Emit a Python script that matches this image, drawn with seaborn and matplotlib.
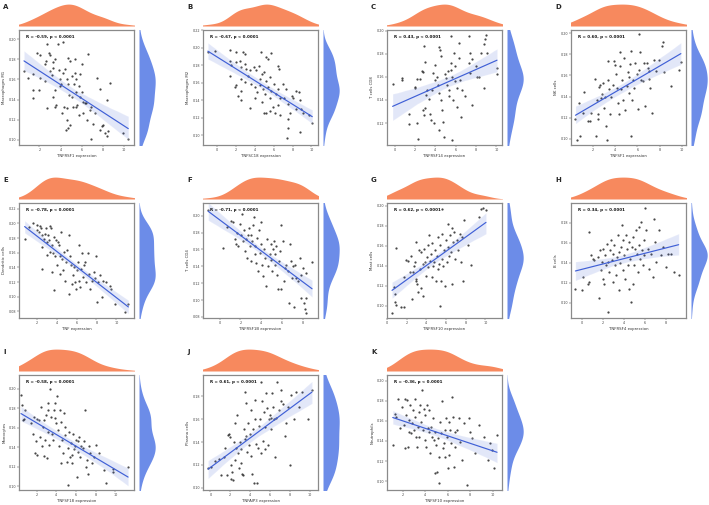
import numpy as np
import matplotlib
matplotlib.use("Agg")
import matplotlib.pyplot as plt
import seaborn as sns

sns.set_style("white")
plt.rcParams['font.family'] = ['DejaVu Sans']

# ---------------- data ----------------
A_x = [0.55,0.96,2.7,3.8,4.27,1.8,2.06,2.95,3.0,2.6,2.5,3.3,3.5,4.7,4.85,5.4,6.6,1.4,2.06,1.37,2.0,1.43,2.5,3.0,3.2,3.3,3.9,3.95,4.05,4.27,4.4,4.6,4.75,5.05,5.5,5.7,5.85,6.0,5.37,5.27,2.7,3.5,3.6,4.33,4.58,4.1,4.83,5.05,5.2,5.46,5.6,6.1,6.3,6.45,6.8,6.9,7.25,7.4,7.7,8.7,8.4,4.6,4.75,4.9,4.5,6.47,7.1,6.9,7.7,8.0,8.2,8.35,8.5,7.9,9.9,10.4,5.85,6.0,5.5,3.95,3.5,3.3,6.15,5.7]
A_y = [0.168,0.161,0.195,0.195,0.197,0.186,0.184,0.186,0.184,0.178,0.175,0.177,0.180,0.181,0.178,0.180,0.185,0.165,0.161,0.150,0.150,0.142,0.158,0.168,0.164,0.171,0.169,0.160,0.155,0.166,0.170,0.160,0.155,0.163,0.160,0.153,0.165,0.175,0.166,0.155,0.132,0.133,0.135,0.133,0.132,0.127,0.145,0.143,0.133,0.133,0.135,0.138,0.137,0.137,0.130,0.133,0.127,0.161,0.151,0.156,0.140,0.120,0.112,0.115,0.110,0.120,0.116,0.101,0.110,0.115,0.107,0.104,0.109,0.114,0.107,0.101,0.143,0.148,0.148,0.153,0.150,0.143,0.127,0.125]

B_x = [-1.0,-0.28,1.3,1.95,2.7,2.9,4.7,5.75,5.14,5.4,1.3,1.5,1.4,2.0,2.4,2.55,2.9,3.1,3.44,3.9,4.15,4.4,4.5,4.75,5.0,5.2,5.6,6.5,6.6,2.55,2.9,3.26,2.0,1.85,2.2,2.55,3.6,3.97,4.25,4.5,4.86,5.1,5.4,5.57,5.75,6.0,6.28,6.45,6.7,7.0,7.34,2.55,3.44,3.97,4.75,4.96,5.2,5.57,5.9,6.1,6.45,6.7,7.1,7.5,7.9,8.05,8.4,8.65,8.75,8.4,8.87,7.5,7.7,9.1,9.8,10.1,7.5,7.4,8.75]
B_y = [0.195,0.196,0.197,0.195,0.195,0.193,0.195,0.194,0.189,0.187,0.185,0.180,0.168,0.183,0.185,0.178,0.181,0.176,0.174,0.178,0.174,0.179,0.164,0.170,0.172,0.162,0.166,0.179,0.176,0.164,0.161,0.168,0.157,0.155,0.145,0.151,0.159,0.155,0.149,0.157,0.153,0.147,0.155,0.143,0.151,0.159,0.147,0.153,0.143,0.159,0.153,0.140,0.131,0.143,0.138,0.125,0.126,0.128,0.132,0.125,0.134,0.123,0.142,0.136,0.145,0.142,0.151,0.149,0.140,0.130,0.130,0.119,0.126,0.125,0.123,0.114,0.108,0.097,0.104]

C_x = [-0.2,0.72,0.72,1.44,1.38,1.97,1.97,2.2,2.2,2.26,2.5,2.7,2.8,2.8,2.85,2.9,2.95,3.08,3.0,3.2,3.34,3.6,3.5,3.84,3.74,3.93,4.0,4.16,4.26,4.33,4.4,4.5,4.6,4.6,4.7,4.8,4.9,5.0,5.05,5.15,5.25,5.3,5.38,5.5,5.5,5.57,5.64,5.7,5.8,5.9,5.97,6.13,6.13,6.3,6.36,6.46,6.6,6.56,6.95,7.28,7.34,7.44,7.44,7.6,7.6,8.0,8.1,8.26,8.5,8.75,8.75,8.9,8.98,9.1,10.07,10.07,3.67,5.64,4.33]
C_y = [0.154,0.157,0.159,0.128,0.119,0.151,0.150,0.158,0.120,0.106,0.158,0.165,0.164,0.131,0.127,0.187,0.173,0.144,0.133,0.149,0.141,0.123,0.128,0.120,0.163,0.170,0.157,0.160,0.153,0.146,0.186,0.183,0.178,0.140,0.131,0.121,0.108,0.162,0.159,0.153,0.165,0.149,0.143,0.195,0.172,0.166,0.160,0.140,0.181,0.169,0.156,0.150,0.134,0.176,0.189,0.157,0.149,0.125,0.143,0.195,0.172,0.181,0.163,0.175,0.136,0.169,0.160,0.160,0.181,0.188,0.150,0.193,0.196,0.181,0.168,0.162,0.149,0.105,0.114]

D_x = [0.45,0.57,0.8,0.87,1.2,1.16,1.55,1.76,1.85,2.24,2.3,2.4,2.45,2.5,2.54,2.66,2.75,2.84,2.96,3.04,3.13,3.2,3.25,3.34,3.4,3.5,3.58,3.64,3.8,3.94,4.03,4.1,4.15,4.24,4.33,4.4,4.45,4.54,4.63,4.75,4.84,4.93,5.04,5.13,5.22,5.28,5.34,5.43,5.43,5.52,5.64,5.73,5.82,5.94,6.03,6.12,6.18,6.27,6.36,6.48,6.57,6.72,6.84,6.93,7.0,7.07,7.13,7.31,7.52,7.67,7.9,8.2,8.27,8.42,9.0,9.7,9.9]
D_y = [0.119,0.099,0.134,0.103,0.144,0.124,0.117,0.117,0.124,0.157,0.103,0.137,0.123,0.119,0.149,0.151,0.139,0.142,0.153,0.129,0.140,0.112,0.099,0.174,0.156,0.147,0.123,0.140,0.151,0.174,0.170,0.161,0.148,0.134,0.123,0.169,0.182,0.147,0.156,0.137,0.177,0.127,0.150,0.163,0.143,0.159,0.171,0.183,0.103,0.137,0.156,0.148,0.172,0.161,0.128,0.165,0.199,0.182,0.156,0.155,0.172,0.131,0.172,0.167,0.157,0.164,0.148,0.124,0.175,0.164,0.175,0.188,0.192,0.163,0.150,0.165,0.173]

E_x = [0.72,1.16,1.6,1.93,2.0,2.17,2.27,2.34,2.44,2.5,2.5,2.67,2.74,2.84,2.94,3.0,3.07,3.17,3.27,3.34,3.4,3.5,3.5,3.6,3.68,3.74,3.84,3.94,4.0,4.08,4.18,4.28,4.35,4.45,4.52,4.62,4.68,4.85,4.95,5.02,5.19,5.19,5.29,5.42,5.52,5.62,5.76,5.86,5.96,6.03,6.1,6.2,6.26,6.36,6.43,6.53,6.63,6.7,6.87,6.97,7.1,7.2,7.37,7.54,7.7,7.87,7.97,8.04,8.2,8.37,8.54,8.7,8.97,9.38,9.45,9.9,10.9,11.23]
E_y = [0.179,0.195,0.201,0.198,0.191,0.188,0.197,0.194,0.184,0.168,0.138,0.179,0.186,0.193,0.175,0.157,0.184,0.177,0.196,0.161,0.193,0.134,0.170,0.159,0.109,0.181,0.156,0.177,0.143,0.175,0.170,0.131,0.156,0.188,0.152,0.136,0.161,0.122,0.147,0.163,0.184,0.104,0.156,0.143,0.118,0.129,0.140,0.120,0.111,0.136,0.147,0.170,0.122,0.113,0.138,0.160,0.127,0.143,0.147,0.120,0.159,0.131,0.111,0.122,0.134,0.125,0.156,0.093,0.120,0.129,0.100,0.122,0.120,0.115,0.111,0.090,0.079,0.090]

F_x = [-1.1,0.32,0.7,1.12,1.28,1.44,1.6,1.7,1.76,1.92,2.08,2.18,2.24,2.34,2.4,2.56,2.66,2.72,2.8,2.88,2.98,3.04,3.1,3.2,3.3,3.36,3.43,3.52,3.62,3.68,3.75,3.85,3.94,4.0,4.07,4.17,4.26,4.33,4.49,4.58,4.65,4.8,4.9,4.97,5.03,5.13,5.22,5.29,5.35,5.45,5.54,5.6,5.67,5.77,5.87,5.93,6.09,6.19,6.25,6.41,6.57,6.63,6.73,6.83,6.96,7.05,7.15,7.28,7.37,7.53,7.69,7.79,7.85,8.01,8.1,8.17,8.27,8.33,8.33,8.88]
F_y = [0.207,0.162,0.187,0.194,0.193,0.172,0.166,0.179,0.164,0.190,0.177,0.202,0.170,0.183,0.158,0.172,0.150,0.177,0.185,0.164,0.146,0.177,0.170,0.189,0.198,0.164,0.154,0.144,0.173,0.134,0.183,0.156,0.166,0.192,0.142,0.128,0.161,0.150,0.117,0.172,0.140,0.154,0.166,0.148,0.134,0.161,0.170,0.142,0.154,0.164,0.130,0.113,0.146,0.158,0.189,0.113,0.170,0.122,0.138,0.142,0.134,0.096,0.166,0.146,0.126,0.140,0.092,0.142,0.126,0.122,0.150,0.102,0.130,0.138,0.096,0.089,0.085,0.132,0.102,0.145]

G_x = [0.51,0.72,0.78,0.85,0.96,0.96,1.4,1.74,1.74,1.98,2.15,2.32,2.42,2.56,2.66,2.76,2.83,2.9,3.0,3.0,3.07,3.17,3.24,3.34,3.45,3.5,3.62,3.69,3.79,3.86,3.92,4.03,4.13,4.2,4.27,4.37,4.47,4.54,4.61,4.71,4.81,4.88,4.95,5.05,5.15,5.22,5.29,5.39,5.39,5.49,5.56,5.63,5.63,5.73,5.84,5.9,5.97,6.08,6.18,6.25,6.35,6.42,6.52,6.59,6.66,6.76,6.86,6.93,7.1,7.27,7.44,7.54,7.61,7.78,7.88,8.29,8.57,9.39,9.59,9.76,10.07]
G_y = [0.093,0.119,0.112,0.104,0.101,0.158,0.099,0.099,0.129,0.146,0.145,0.134,0.150,0.107,0.134,0.140,0.144,0.127,0.125,0.164,0.122,0.114,0.156,0.137,0.154,0.118,0.142,0.110,0.157,0.144,0.130,0.149,0.139,0.161,0.171,0.145,0.152,0.129,0.163,0.140,0.144,0.156,0.125,0.150,0.169,0.137,0.142,0.100,0.161,0.125,0.172,0.147,0.197,0.140,0.156,0.120,0.166,0.144,0.159,0.182,0.150,0.171,0.154,0.178,0.122,0.164,0.174,0.147,0.166,0.156,0.172,0.144,0.169,0.125,0.186,0.161,0.141,0.189,0.197,0.198,0.196]

H_x = [-0.6,0.03,0.1,0.57,0.73,0.73,0.89,1.05,1.21,1.52,1.62,1.75,1.84,1.94,2.0,2.06,2.16,2.25,2.32,2.38,2.48,2.54,2.63,2.7,2.79,2.89,2.95,3.02,3.11,3.2,3.27,3.33,3.43,3.52,3.59,3.65,3.75,3.84,3.9,3.97,4.06,4.16,4.22,4.29,4.38,4.48,4.54,4.6,4.7,4.79,4.86,4.92,5.02,5.11,5.17,5.24,5.33,5.43,5.49,5.56,5.65,5.75,5.81,5.9,5.97,6.06,6.13,6.29,6.44,6.6,6.76,6.92,7.02,7.08,7.4,7.56,7.71,8.03,8.19,8.51,8.83,9.24]
H_y = [0.114,0.113,0.126,0.119,0.121,0.171,0.148,0.144,0.143,0.146,0.105,0.153,0.133,0.141,0.154,0.124,0.119,0.148,0.138,0.159,0.091,0.141,0.131,0.153,0.163,0.143,0.149,0.121,0.158,0.138,0.128,0.146,0.168,0.151,0.113,0.140,0.156,0.178,0.133,0.163,0.148,0.124,0.168,0.154,0.138,0.114,0.161,0.144,0.101,0.156,0.119,0.166,0.138,0.154,0.173,0.149,0.131,0.176,0.158,0.144,0.181,0.153,0.138,0.163,0.148,0.195,0.173,0.154,0.134,0.149,0.126,0.184,0.161,0.141,0.173,0.148,0.156,0.136,0.149,0.149,0.131,0.128]

I_x = [0.4,0.5,0.6,0.68,0.85,1.37,1.65,1.72,1.79,1.9,2.0,2.07,2.24,2.35,2.42,2.49,2.59,2.7,2.77,2.84,2.94,3.04,3.11,3.11,3.18,3.29,3.39,3.46,3.53,3.63,3.74,3.81,3.88,3.98,4.09,4.16,4.23,4.33,4.43,4.5,4.57,4.68,4.78,4.85,4.92,5.03,5.13,5.2,5.27,5.37,5.48,5.55,5.62,5.72,5.83,5.9,5.97,6.07,6.17,6.24,6.31,6.42,6.52,6.66,6.77,6.87,7.01,7.11,7.22,7.36,7.46,7.63,7.81,8.05,8.33,8.85,9.03,9.72,9.79,11.28]
I_y = [0.194,0.183,0.168,0.169,0.178,0.165,0.154,0.171,0.134,0.146,0.169,0.132,0.168,0.151,0.181,0.141,0.161,0.131,0.168,0.147,0.173,0.129,0.178,0.156,0.185,0.142,0.200,0.171,0.154,0.147,0.178,0.170,0.185,0.165,0.192,0.158,0.141,0.178,0.166,0.124,0.147,0.134,0.175,0.153,0.161,0.125,0.101,0.139,0.156,0.130,0.144,0.124,0.132,0.154,0.138,0.141,0.147,0.110,0.135,0.146,0.151,0.130,0.141,0.139,0.146,0.178,0.120,0.127,0.113,0.141,0.134,0.124,0.130,0.142,0.134,0.117,0.103,0.118,0.115,0.120]

J_x = [-0.23,0.1,0.5,0.84,1.1,1.37,1.44,1.71,1.78,1.88,1.95,2.05,2.11,2.18,2.28,2.38,2.45,2.52,2.62,2.72,2.79,2.85,2.95,3.05,3.12,3.19,3.29,3.39,3.46,3.52,3.56,3.62,3.72,3.79,3.86,3.96,4.06,4.13,4.19,4.3,4.36,4.46,4.53,4.63,4.73,4.8,4.87,4.97,5.07,5.13,5.2,5.3,5.4,5.47,5.54,5.64,5.74,5.8,5.87,5.97,6.07,6.14,6.21,6.31,6.41,6.54,6.64,6.74,6.88,7.08,7.15,7.32,7.48,7.65,7.82,7.99,8.15,8.42,8.66,8.89,9.23,9.83,10.23]
J_y = [0.117,0.118,0.123,0.125,0.111,0.127,0.135,0.111,0.146,0.147,0.144,0.120,0.108,0.114,0.107,0.140,0.157,0.124,0.135,0.164,0.130,0.117,0.140,0.122,0.134,0.112,0.111,0.151,0.143,0.184,0.174,0.145,0.131,0.157,0.137,0.147,0.168,0.128,0.112,0.151,0.104,0.160,0.177,0.138,0.104,0.135,0.154,0.160,0.193,0.130,0.176,0.141,0.166,0.153,0.134,0.183,0.170,0.137,0.160,0.164,0.151,0.161,0.183,0.171,0.160,0.127,0.161,0.193,0.168,0.176,0.186,0.173,0.145,0.157,0.171,0.120,0.181,0.160,0.184,0.171,0.184,0.160,0.186]

K_x = [1.11,1.29,1.41,1.59,1.79,1.94,2.09,2.18,2.24,2.3,2.39,2.47,2.53,2.59,2.68,2.77,2.83,2.89,2.98,3.07,3.13,3.19,3.27,3.36,3.42,3.48,3.57,3.66,3.72,3.78,3.87,3.96,4.01,4.07,4.16,4.25,4.31,4.37,4.46,4.55,4.61,4.67,4.76,4.84,4.9,4.96,5.05,5.14,5.2,5.26,5.35,5.44,5.5,5.55,5.64,5.73,5.79,5.85,5.94,6.03,6.09,6.15,6.24,6.33,6.39,6.44,6.53,6.62,6.68,6.83,6.98,7.13,7.27,7.42,7.72,7.93,8.01,8.16,8.46,8.81,9.2,9.58,9.79,9.94,10.09,10.39]
K_y = [0.136,0.167,0.164,0.182,0.153,0.174,0.156,0.133,0.182,0.166,0.181,0.134,0.149,0.161,0.176,0.148,0.158,0.171,0.151,0.182,0.164,0.144,0.134,0.154,0.169,0.144,0.176,0.159,0.191,0.151,0.172,0.141,0.166,0.134,0.176,0.153,0.149,0.171,0.128,0.154,0.144,0.163,0.141,0.149,0.108,0.136,0.109,0.143,0.124,0.098,0.159,0.148,0.180,0.133,0.138,0.151,0.124,0.163,0.144,0.113,0.159,0.126,0.151,0.138,0.184,0.164,0.114,0.149,0.134,0.151,0.163,0.139,0.121,0.158,0.096,0.163,0.149,0.143,0.128,0.156,0.144,0.121,0.138,0.131,0.113,0.146]

labels = ["A", "B", "C", "D", "E", "F", "G", "H", "I", "J", "K"]
stat_texts = ["R = -0.59, p < 0.0001", "R = -0.67, p < 0.0001", "R = 0.43, p < 0.0001",
              "R = 0.60, p < 0.0001", "R = -0.78, p < 0.0001", "R = -0.71, p < 0.0001",
              "R = 0.62, p < 0.0001", "R = 0.34, p < 0.0001", "R = -0.58, p < 0.0001",
              "R = 0.61, p < 0.0001", "R = -0.36, p < 0.0001"]
ylabels = ["Macrophages M1", "Macrophages M2", "T cells CD8", "NK cells", "Dendritic cells",
           "T cells CD4", "Mast cells", "B cells", "Monocytes", "Plasma cells", "Neutrophils"]
xlabels = ["TNFRSF1 expression", "TNFSC18 expression", "TNFRSF14 expression", "TNFSF1 expression",
           "TNF expression", "TNFRSF1B expression", "TNFRSF10 expression", "TNFRSF4 expression",
           "TNFSF18 expression", "TNFAIP3 expression", "TNFSF10 expression"]
xticks_list = [[2,4,6,8,10],[0,2,4,6,8,10],[0,2,4,6,8,10],[2,4,6,8,10],[2,4,6,8,10],[0,2,4,6,8],
               [0,2,4,6,8,10],[0,2,4,6,8],[2,4,6,8,10],[0,2,4,6,8,10],[2,4,6,8,10]]
yticks_list = [[0.10,0.12,0.14,0.16,0.18,0.20],[0.10,0.12,0.14,0.16,0.18,0.20,0.22],
               [0.12,0.14,0.16,0.18,0.20],[0.10,0.12,0.14,0.16,0.18,0.20],
               [0.08,0.10,0.12,0.14,0.16,0.18,0.20,0.22],[0.08,0.10,0.12,0.14,0.16,0.18,0.20],
               [0.10,0.12,0.14,0.16,0.18,0.20],[0.10,0.12,0.14,0.16,0.18],
               [0.10,0.12,0.14,0.16,0.18,0.20],[0.10,0.12,0.14,0.16,0.18],
               [0.10,0.12,0.14,0.16,0.18,0.20]]
xs_all = [A_x, B_x, C_x, D_x, E_x, F_x, G_x, H_x, I_x, J_x, K_x]
ys_all = [A_y, B_y, C_y, D_y, E_y, F_y, G_y, H_y, I_y, J_y, K_y]

# ---------------- layout (pixels) ----------------
W, H = 709, 505
xlims = [(0.08,10.94),(-1.52,10.71),(-0.75,10.56),(0.05,10.36),(0.15,11.8),(-1.6,9.45),
         (0.0,11.7),(-1.02,9.94),(0.2,11.88),(-0.74,10.84),(0.6,10.83)]
ylims = [(0.095,0.209),(0.089,0.2195),(0.101,0.2005),(0.094,0.2032),(0.071,0.2277),(0.0787,0.215),
         (0.0876,0.203),(0.085,0.20),(0.0963,0.214),(0.098,0.1987),(0.0912,0.2056)]
col_left = [19, 203, 387, 571]
row_top = [30, 203, 375]
AW, AH = 115, 115

ORANGE = "#F7895E"
BLUE_M = "#6C8CE8"
LINE = "#3F5FD6"

fig = plt.figure(figsize=(W/100, H/100), dpi=100)

def add_px(left, top, w, h):
    return fig.add_axes([left/W, 1-(top+h)/H, w/W, h/H])

for i in range(11):
    r, c = divmod(i, 4)
    left, top = col_left[c], row_top[r]
    ax = add_px(left, top, AW, AH)
    axt = add_px(left, top-27, AW, 23)
    axr = add_px(left+AW+5, top, 17, AH)
    x = np.array(xs_all[i]); y = np.array(ys_all[i])

    sns.regplot(x=x, y=y, ax=ax, color=LINE, ci=95, truncate=True,
                scatter_kws=dict(s=2.6, color="#1a1a1a", linewidths=0),
                line_kws=dict(lw=0.85))
    ax.set_xlim(*xlims[i]); ax.set_ylim(*ylims[i])
    ax.set_xticks(xticks_list[i]); ax.set_yticks(yticks_list[i])
    ax.set_yticklabels([f"{v:.2f}" for v in yticks_list[i]])
    ax.tick_params(labelsize=2.4, length=1.2, width=0.35, pad=1, colors="#444444",
                   bottom=True, left=True)
    for s in ax.spines.values():
        s.set_color("#8a8a8a"); s.set_linewidth(0.9)
    ax.set_xlabel(xlabels[i], fontsize=2.8, labelpad=1.5, color="#333333")
    ax.set_ylabel(ylabels[i], fontsize=2.8, labelpad=1.5, color="#333333")
    ax.text(0.06, 0.935, stat_texts[i], transform=ax.transAxes, fontsize=2.9,
            fontweight="bold", va="center", ha="left", color="#111111")

    sns.kdeplot(x=x, ax=axt, fill=True, color=ORANGE, alpha=1, linewidth=0)
    axt.set_xlim(*xlims[i]); axt.set_ylim(bottom=0)
    axt.set_axis_off()
    sns.kdeplot(y=y, ax=axr, fill=True, color=BLUE_M, alpha=1, linewidth=0)
    axr.set_ylim(*ylims[i]); axr.set_xlim(left=0)
    axr.set_axis_off()

    fig.text((left-16)/W, 1-(top-23)/H, labels[i], fontsize=5, fontweight="bold",
             ha="left", va="center")

fig.savefig("out.png", dpi=100)
